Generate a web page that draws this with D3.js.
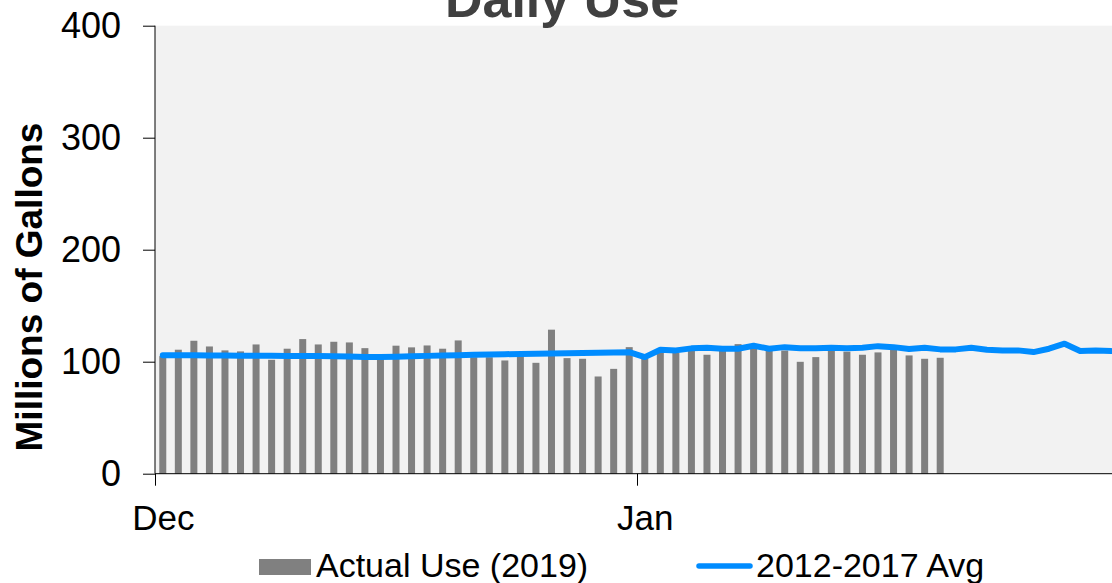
<!DOCTYPE html>
<html><head><meta charset="utf-8">
<script src="https://cdn.jsdelivr.net/npm/d3@7"></script>
<style>
html,body{margin:0;padding:0;background:#fff;overflow:hidden}
text{font-family:"Liberation Sans",Arial,sans-serif}
</style></head>
<body>
<svg id="chart" width="1112" height="583"></svg>
<script>
// ---- data ----
const startDate = new Date(2019, 11, 1);
const endDate = new Date(2020, 1, 1);
const monthTicks = [new Date(2019, 11, 1), new Date(2020, 0, 1)];
const monthLabels = ["Dec", "Jan"];
const yTicks = [0, 100, 200, 300, 400];
const actualUse = [105,110.7,118.7,113.6,110.1,109.2,115.4,101.7,111.6,120.2,
  115.4,117.8,117.2,112.1,103,114.3,112.8,114.5,111.6,119.0,
  104,104,101.1,105,99.0,128.6,103.2,102.6,86.8,93.6,113.0,
  103,108,108,110,106.2,110,115.7,113,110,110,99.9,104.1,110,109,106.2,108.3,111,105.6,102.6,103.5];
const avgUse = [105.8,105.8,105.7,105.6,105.5,105.4,105.3,105.3,105.2,105.1,105.0,104.8,104.6,104.3,104.2,104.4,
  104.8,105.2,105.5,105.8,106.1,106.4,106.7,106.9,107.1,107.3,107.5,107.7,107.9,108.2,108.5,
  104.1,110.7,110.1,111.9,112.5,111.6,111.6,114.3,111.6,113.0,112.1,111.9,112.5,111.9,112.5,113.9,
  113.0,111.3,112.5,111.0,111.0,112.5,110.7,110.1,110.1,108.6,111.6,116.1,109.5,110.1,109.5];
const seriesNames = ["Actual Use (2019)", "2012-2017 Avg"];
const titleText = "Daily Use";
const yLabel = "Millions of Gallons";

const days = d3.timeDay.range(startDate, endDate);

// ---- layout ----
const svg = d3.select("#chart");
const mLeft = 155, mTop = 25.7, mBottom = 473.7;
const dayW = (637 - 155) / 31;
const mRight = mLeft + dayW * 62;

const x = d3.scaleTime().domain([startDate, endDate]).range([mLeft, mRight]);
const y = d3.scaleLinear().domain([0, 400]).range([mBottom, mTop]);
const mid = d => d3.timeHour.offset(d, 12);

svg.append("rect").attr("x", mLeft).attr("y", mTop)
  .attr("width", mRight - mLeft).attr("height", mBottom - mTop).attr("fill", "#f2f2f2");

// bars
const barW = 7;
svg.append("g").selectAll("rect").data(actualUse).join("rect")
  .attr("x", (v, i) => x(mid(days[i])) - barW / 2)
  .attr("y", v => y(v))
  .attr("width", barW)
  .attr("height", v => y(0) - y(v))
  .attr("fill", "#808080");

// line
const line = d3.line().x((v, i) => x(mid(days[i]))).y(v => y(v));
svg.append("path").datum(avgUse).attr("d", line)
  .attr("fill", "none").attr("stroke", "#008cff").attr("stroke-width", 6)
  .attr("stroke-linejoin", "round").attr("stroke-linecap", "round");

// axes
const yAxis = svg.append("g").attr("transform", `translate(${mLeft},0)`)
  .call(d3.axisLeft(y).tickValues(yTicks).tickSize(12).tickPadding(22));
yAxis.select(".domain").attr("stroke", "#000").attr("d", `M0,${mTop}V${mBottom}`);
yAxis.selectAll(".tick line").attr("stroke", "#000");
yAxis.selectAll("text").attr("font-size", 36).attr("fill", "#000")
  .attr("font-family", "'Liberation Sans',Arial,sans-serif");

const xAxis = svg.append("g").attr("transform", `translate(0,${mBottom})`)
  .call(d3.axisBottom(x).tickValues(monthTicks).tickSize(12)
    .tickFormat((d, i) => monthLabels[i]));
xAxis.select(".domain").attr("stroke", "#000").attr("d", `M${mLeft},0H${mRight}`);
xAxis.selectAll(".tick line").attr("stroke", "#000");
xAxis.selectAll("text").attr("font-size", 35).attr("fill", "#000")
  .attr("font-family", "'Liberation Sans',Arial,sans-serif")
  .attr("x", dayW / 2).attr("y", 0).attr("dy", null)
  .attr("transform", "translate(0,56)");

// title
svg.append("text").attr("x", 562).attr("y", 17).attr("text-anchor", "middle")
  .attr("font-size", 52).attr("font-weight", "bold").attr("fill", "#404040").text(titleText);

// y label
svg.append("text").attr("transform", "translate(42,287) rotate(-90)")
  .attr("text-anchor", "middle").attr("font-size", 37).attr("font-weight", "bold")
  .attr("fill", "#000").text(yLabel);

// legend
const lg = svg.append("g");
lg.append("rect").attr("x", 259).attr("y", 559).attr("width", 52).attr("height", 16).attr("fill", "#808080");
lg.append("text").attr("x", 316).attr("y", 577).attr("font-size", 34).attr("fill", "#000").text(seriesNames[0]);
lg.append("line").attr("x1", 699).attr("x2", 750).attr("y1", 566).attr("y2", 566)
  .attr("stroke", "#008cff").attr("stroke-width", 5.5).attr("stroke-linecap", "round");
lg.append("text").attr("x", 756).attr("y", 577).attr("font-size", 34).attr("fill", "#000").text(seriesNames[1]);
</script>
</body></html>
